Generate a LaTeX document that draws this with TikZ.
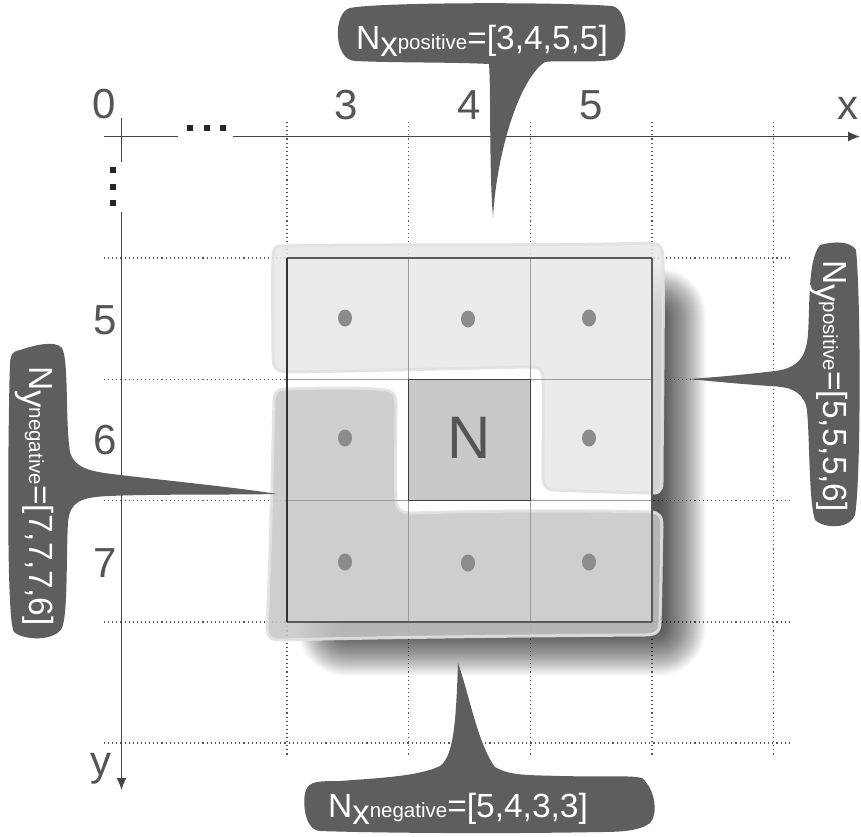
\documentclass[tikz,border=0pt]{standalone}
\usepackage{fontspec}
\setmainfont{Liberation Sans}
\usetikzlibrary{arrows.meta}
\definecolor{bub}{HTML}{5E5E5E}
\definecolor{lab}{HTML}{555555}
\definecolor{axisc}{HTML}{444444}
\definecolor{lightblob}{HTML}{E8E8E8}
\definecolor{darkblob}{HTML}{C6C6C6}
\definecolor{blobedge}{HTML}{E2E2E2}
\definecolor{dotc}{HTML}{8C8C8C}
\definecolor{gridc}{HTML}{9A9A9A}
\definecolor{bord}{HTML}{5A5A5A}
\definecolor{cellN}{HTML}{C9C9C9}
\newcommand{\cotext}[3]{\fontsize{33.5}{33.5}\selectfont N\raisebox{-7pt}{\fontsize{35}{35}\selectfont #1}{\fontsize{20.5}{20.5}\selectfont #2}=[#3]}
\begin{document}
\begin{tikzpicture}[x=1pt,y=-1pt,
  lbl/.style={text=lab,font=\fontsize{42}{42}\selectfont,inner sep=0pt,anchor=base},
  guide/.style={draw=lab,line width=1.1pt,dash pattern=on 1.1pt off 3pt},
  axisline/.style={draw=axisc,line width=1.4pt},
  bubble/.style={fill=bub},
  cotxt/.style={text=white,inner sep=0pt,anchor=base},
  dotmark/.style={fill=dotc},
  blobL/.style={fill=lightblob,fill opacity=0.85,draw=blobedge,draw opacity=0.9,line width=3pt},
  blobD/.style={fill=darkblob,fill opacity=0.85,draw=blobedge,draw opacity=0.9,line width=3pt},
  gridline/.style={draw=gridc,line width=0.9pt},
  border/.style={draw=bord,line width=2.4pt},
  ellsq/.style={fill=black!85,minimum size=6pt,inner sep=0pt},
]
\useasboundingbox (0,0) rectangle (861,836);
\fill[white] (0,0) rectangle (861,836);

% dotted guide lines
\foreach \gx in {287,408.67,530.33,652,773.67} {
  \draw[guide] (\gx,122) -- (\gx,756);
}
\foreach \gy in {258,379.33,500.67,622,743} {
  \draw[guide] (104,\gy) -- (792,\gy);
}

% axes
\coordinate (xa) at (104,136.5);
\coordinate (xb) at (860,136.5);
\coordinate (ya) at (121.5,118);
\coordinate (yb) at (121.5,790);
\draw[axisline,-{Latex[length=12pt,width=10pt]}] (xa) -- (xb);
\draw[axisline,-{Latex[length=12pt,width=10pt]}] (ya) -- (yb);
\fill[white] (178,123) rectangle (233,145);
\fill[white] (107,162) rectangle (132,212);
\node[ellsq] (hd1) at (190,128) {};
\node[ellsq] (hd2) at (207,128) {};
\node[ellsq] (hd3) at (223,128) {};
\node[ellsq] (vd1) at (113,170) {};
\node[ellsq] (vd2) at (113,187) {};
\node[ellsq] (vd3) at (113,203) {};

% axis labels
\node[lbl] (l0) at (104,118) {0};
\node[lbl] (lx3) at (346,119) {3};
\node[lbl] (lx4) at (469,119) {4};
\node[lbl] (lx5) at (591,119) {5};
\node[lbl] (lxx) at (848,119) {x};
\node[lbl] (ly5) at (105,334) {5};
\node[lbl] (ly6) at (105,454) {6};
\node[lbl] (ly7) at (105,577) {7};
\node[lbl] (lyy) at (101,775) {y};

% blurred shadow
\foreach \i [evaluate=\i as \r using {max(1,48-\i)}] in {0,...,46} {
  \fill[black,opacity=0.021,rounded corners=\r pt] ({298+\i},{268+\i}) rectangle ({706-\i},{676-\i});
}

% cells
\fill[white] (287,258) rectangle (652,622);
\fill[cellN] (408.67,379.33) rectangle (530.33,500.67);

% blobs
\path[blobL] (280,246) .. controls (350,244) and (560,246) .. (650,243)
  .. controls (662,243) and (663,250) .. (663,262)
  .. controls (664,330) and (662,440) .. (662,482)
  .. controls (662,492) and (658,494) .. (648,493)
  .. controls (610,492) and (575,491) .. (553,490)
  .. controls (544,489) and (543,484) .. (543,475)
  .. controls (543,440) and (544,400) .. (543,380)
  .. controls (543,370) and (540,367) .. (530,367)
  .. controls (470,368) and (360,371) .. (290,372)
  .. controls (276,372) and (273,368) .. (273,355)
  .. controls (273,320) and (272,290) .. (273,258)
  .. controls (273,249) and (275,246) .. (280,246) -- cycle;
\path[blobD] (285,389) .. controls (320,388) and (360,387) .. (385,390)
  .. controls (394,391) and (396,396) .. (396,405)
  .. controls (396,440) and (395,480) .. (396,500)
  .. controls (397,510) and (402,513) .. (412,513)
  .. controls (480,511) and (580,510) .. (650,512)
  .. controls (660,512) and (662,517) .. (662,527)
  .. controls (661,570) and (661,600) .. (660,622)
  .. controls (660,632) and (656,635) .. (645,635)
  .. controls (500,636) and (350,638) .. (280,640)
  .. controls (270,640) and (267,636) .. (267,626)
  .. controls (270,570) and (272,480) .. (274,400)
  .. controls (275,392) and (278,389) .. (285,389) -- cycle;

% grid lines
\foreach \gx in {408.67,530.33} { \draw[gridline] (\gx,258) -- (\gx,622); }
\foreach \gy in {379.33,500.67} { \draw[gridline] (287,\gy) -- (652,\gy); }
\draw[draw=black!75,line width=1.6pt] (408.67,379.33) rectangle (530.33,500.67);
\draw[border] (287,258) -- (652,258);
\draw[border] (652,258) -- (652,622);
\draw[border] (287,622) -- (652,622);
\draw[draw=black!80,line width=2.6pt] (287,258) -- (287,622);

% centre label
\node[text=lab,font=\fontsize{60}{60}\selectfont,inner sep=0pt] (N) at (469.5,438) {N};

% cell dots
\foreach \cx/\cy in {345/318,468/319,589/318,345/438,589/438,345/562,468/563,589/562} {
  \fill[dotmark] (\cx,\cy) ellipse [x radius=7pt, y radius=8.5pt];
}

% callouts
\path[bubble] (350,8) .. controls (380,2) and (560,2) .. (612,6)
  .. controls (630,9) and (630,55) .. (612,60)
  .. controls (590,63) and (560,60) .. (545,62)
  .. controls (520,78) and (497,150) .. (493,217)
  .. controls (489,170) and (491,90) .. (489,64)
  .. controls (450,62) and (400,63) .. (355,61)
  .. controls (333,60) and (333,12) .. (350,8) -- cycle;
\node[cotxt] (ctop) at (482,49) {\cotext{x}{positive}{3,4,5,5}};

\path[bubble] (458,663) .. controls (468,690) and (478,745) .. (495,767)
  .. controls (510,776) and (530,775) .. (560,776)
  .. controls (600,777) and (630,775) .. (642,778)
  .. controls (656,790) and (658,815) .. (650,823)
  .. controls (640,831) and (620,832) .. (600,832)
  .. controls (500,834) and (380,833) .. (320,831)
  .. controls (304,830) and (302,800) .. (306,790)
  .. controls (309,781) and (320,781) .. (340,781)
  .. controls (380,778) and (420,776) .. (440,766)
  .. controls (454,756) and (456,720) .. (458,663) -- cycle;
\node[cotxt] (cbot) at (458,817) {\cotext{x}{negative}{5,4,3,3}};

\path[bubble] (20,350) .. controls (35,345) and (55,340) .. (62,348)
  .. controls (69,360) and (65,420) .. (70,452)
  .. controls (75,470) and (95,472) .. (120,475)
  .. controls (180,482) and (240,488) .. (277,494)
  .. controls (230,495) and (150,494) .. (110,496)
  .. controls (80,497) and (70,502) .. (68,522)
  .. controls (66,560) and (68,612) .. (62,628)
  .. controls (55,641) and (25,641) .. (14,632)
  .. controls (5,620) and (9,380) .. (10,365)
  .. controls (10,352) and (15,351) .. (20,350) -- cycle;
\node[cotxt,rotate=-90] (cleft) at (29,496) {\cotext{y}{negative}{7,7,7,6}};

\path[bubble] (820,245) .. controls (835,241) and (850,241) .. (856,250)
  .. controls (861,300) and (861,480) .. (855,515)
  .. controls (850,529) and (825,529) .. (815,520)
  .. controls (808,500) and (810,420) .. (806,405)
  .. controls (800,390) and (790,387) .. (770,386)
  .. controls (740,384) and (710,381) .. (688,379)
  .. controls (720,377) and (750,374) .. (775,371)
  .. controls (800,368) and (806,355) .. (808,335)
  .. controls (810,300) and (808,260) .. (820,245) -- cycle;
\node[cotxt,rotate=-90] (cright) at (823,386) {\cotext{y}{positive}{5,5,5,6}};
\end{tikzpicture}
\end{document}
